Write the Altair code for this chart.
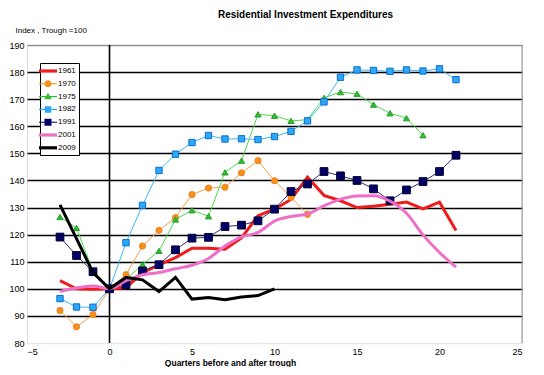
import altair as alt
import pandas as pd

# ---------------- data ----------------
series_names = ["1961", "1970", "1975", "1982", "1991", "2001", "2009"]

q_1961 = [-3, -2, -1, 0, 1, 2, 3, 4, 5, 6, 7, 8, 9, 10, 11, 12, 13, 14, 15, 16, 17, 18, 19, 20, 21]
v_1961 = [103, 100, 99.8, 100, 100.4, 106, 108.8, 111.5, 115, 115, 114.6, 118.8, 127, 129.4, 133, 141.2,
          134.5, 132.5, 130, 130.5, 131.2, 132, 129.5, 132, 121.5]

q_1970 = [-3, -2, -1, 0, 1, 2, 3, 4, 5, 6, 7, 8, 9, 10, 11, 12]
v_1970 = [92, 86, 90.5, 100, 105.2, 115.8, 121.6, 126.3, 134.8, 137.2, 137.5, 142.8, 147.3, 139.9, 133.8, 127.5]

q_1975 = [-3, -2, -1, 0, 1, 2, 3, 4, 5, 6, 7, 8, 9, 10, 11, 12, 13, 14, 15, 16, 17, 18, 19]
v_1975 = [126.5, 122.5, 106.5, 100, 103.5, 109, 114, 125.6, 129, 126.8, 143, 147.3, 164.4, 163.9, 162,
          162.4, 170.5, 172.6, 172, 168, 164.8, 163, 156.7]

q_1982 = [-3, -2, -1, 0, 1, 2, 3, 4, 5, 6, 7, 8, 9, 10, 11, 12, 13, 14, 15, 16, 17, 18, 19, 20, 21]
v_1982 = [96.4, 93.3, 93.2, 100, 117, 130.8, 143.7, 149.7, 154, 156.6, 155.3, 155.4, 155.1, 156.2, 158.1,
          162, 169, 178.1, 180.8, 180.6, 180.3, 180.8, 180.4, 181.2, 177.2]

q_1991 = [-3, -2, -1, 0, 1, 2, 3, 4, 5, 6, 7, 8, 9, 10, 11, 12, 13, 14, 15, 16, 17, 18, 19, 20, 21]
v_1991 = [119.1, 112.3, 106.3, 100, 101.5, 106.6, 108.9, 114.4, 118.7, 119, 123, 123.5, 125.1, 129.4,
          135.9, 138.7, 143.3, 141.7, 140, 136.9, 132.5, 136.5, 139.6, 143.3, 149.3]

q_2001 = [-3, -2, -1, 0, 1, 2, 3, 4, 5, 6, 7, 8, 9, 10, 11, 12, 13, 14, 15, 16, 17, 18, 19, 20, 21]
v_2001 = [99, 100.3, 101, 100, 103, 105.2, 106, 107.4, 108.7, 111.2, 115.8, 119.2, 120.8, 125, 126.7,
          127.6, 130.6, 133.1, 134.3, 134.4, 132.4, 127.9, 119.9, 113.4, 108]

q_2009 = [-3, -2, -1, 0, 1, 2, 3, 4, 5, 6, 7, 8, 9, 10]
v_2009 = [131, 118.5, 106, 100, 104.2, 103.3, 99, 104.2, 96.2, 96.8, 96, 97, 97.5, 100]

quarters = [q_1961, q_1970, q_1975, q_1982, q_1991, q_2001, q_2009]
values = [v_1961, v_1970, v_1975, v_1982, v_1991, v_2001, v_2009]

x_ticks = [-5, 0, 5, 10, 15, 20, 25]
y_ticks = [80, 90, 100, 110, 120, 130, 140, 150, 160, 170, 180, 190]

# ---------------- styles ----------------
FONT = "Arial, Liberation Sans, sans-serif"
styles = {
    "1961": dict(line="#EE1C1C", width=3, shape=None),
    "1970": dict(line="#F5A045", width=1, shape="circle", fill="#F7901E", stroke="#F08010", size=38),
    "1975": dict(line="#4CD94C", width=1, shape="triangle-up", fill="#33BB33", stroke="#2AA02A", size=38),
    "1982": dict(line="#3CB8EC", width=1, shape="square", fill="#2EA8F5", stroke="#0A6ED1", size=40),
    "1991": dict(line="#2E2E7A", width=1, shape="square", fill="#000066", stroke="#000033", size=60),
    "2001": dict(line="#EE6FC8", width=3, shape=None, interp="monotone"),
    "2009": dict(line="#000000", width=3, shape=None),
}
legend_colors = ["#EE1C1C", "#F7901E", "#33BB33", "#2EA8F5", "#000066", "#EE6FC8", "#000000"]
thin = "M-1.8,-0.11H1.8V0.11H-1.8Z"
thick = "M-1.8,-0.32H1.8V0.32H-1.8Z"
legend_shapes = [
    thick,
    thin + "M0.7,0A0.7,0.7,0,1,1,-0.7,0A0.7,0.7,0,1,1,0.7,0Z",
    thin + "M0,-0.75L0.72,0.55L-0.72,0.55Z",
    thin + "M-0.65,-0.65H0.65V0.65H-0.65Z",
    thin + "M-0.7,-0.7H0.7V0.7H-0.7Z",
    thick,
    thick,
]

x_scale = alt.Scale(domain=[-5, 25], nice=False, zero=False)
y_scale = alt.Scale(domain=[80, 190], nice=False, zero=False)
x_axis = alt.Axis(
    values=x_ticks, grid=False, domain=False, ticks=False, labelPadding=4,
    labelFontSize=9, labelFont=FONT, labelColor="#000",
    title="Quarters before and after trough", titleFont=FONT, titleFontSize=8.5,
    titleFontWeight="bold", titleColor="#000", titleX=203, titleY=19,
    titleAlign="center", titleBaseline="middle",
)
y_axis = alt.Axis(
    values=y_ticks, grid=True, domain=False, ticks=False, labelPadding=3,
    labelFontSize=9, labelFont=FONT, labelColor="#000", labelOverlap=False,
    gridWidth=1.5,
    gridColor={"condition": [{"test": "datum.value == 190", "value": "#909090"},
                             {"test": "datum.value == 80", "value": "#e6e6e6"}],
               "value": "#000000"},
    title="Index , Trough =100", titleFont=FONT, titleFontSize=8, titleFontWeight="normal",
    titleColor="#000", titleAngle=0, titleX=-12, titleY=-15, titleAlign="left",
    titleBaseline="middle",
)

dummy = pd.DataFrame({"a": [0]})
layers = []
# vertical axis line through x = 0
layers.append(
    alt.Chart(dummy).mark_rule(color="#000", strokeWidth=1.6).encode(
        x=alt.X(datum=0, scale=x_scale, axis=x_axis),
        y=alt.Y(datum=80, scale=y_scale, axis=y_axis),
        y2=alt.Y2(datum=190),
    )
)
# right border
layers.append(
    alt.Chart(dummy).mark_rule(color="#909090", strokeWidth=1).encode(
        x=alt.X(datum=25, scale=x_scale, axis=x_axis),
        y=alt.Y(datum=80, scale=y_scale, axis=y_axis),
        y2=alt.Y2(datum=190),
    )
)

for name, qs, vs in zip(series_names, quarters, values):
    df = pd.DataFrame({"quarter": qs, "value": vs, "series": name})
    st = styles[name]
    line_kw = dict(color=st["line"], strokeWidth=st["width"])
    if st.get("interp"):
        line_kw["interpolate"] = st["interp"]
    enc = dict(
        x=alt.X("quarter:Q", scale=x_scale, axis=x_axis),
        y=alt.Y("value:Q", scale=y_scale, axis=y_axis),
    )
    layers.append(alt.Chart(df).mark_line(**line_kw).encode(**enc))
    if st["shape"]:
        layers.append(
            alt.Chart(df).mark_point(
                shape=st["shape"], filled=True, fill=st["fill"], stroke=st["stroke"],
                strokeWidth=1, size=st["size"], opacity=1,
            ).encode(**enc)
        )

legend = alt.Legend(
    title=None, orient="none", legendX=13, legendY=18, padding=3,
    strokeColor="#000", fillColor="#fff", labelFont=FONT, labelFontSize=8,
    labelColor="#000", symbolSize=100, symbolStrokeWidth=0, symbolOpacity=1,
    rowPadding=3.8, labelOffset=5,
)
legend_df = pd.DataFrame({"series": series_names})
layers.append(
    alt.Chart(legend_df).mark_point(filled=True, opacity=0).encode(
        color=alt.Color("series:N", scale=alt.Scale(domain=series_names, range=legend_colors), legend=legend),
        shape=alt.Shape("series:N", scale=alt.Scale(domain=series_names, range=legend_shapes), legend=legend),
    )
)

chart = (
    alt.layer(*layers)
    .properties(
        width=495, height=298,
        autosize=alt.AutoSizeParams(type="none"),
        padding={"left": 19, "top": 37, "right": 14, "bottom": 24},
        title=alt.TitleParams(
            "Residential Investment Expenditures", font=FONT, fontSize=10, fontWeight="bold",
            color="#000", anchor="middle", dx=31, offset=6,
        ),
    )
    .configure_view(strokeWidth=0)
    .configure(background="white")
)

chart.save("out.html", embed_options={"renderer": "svg", "actions": False})
